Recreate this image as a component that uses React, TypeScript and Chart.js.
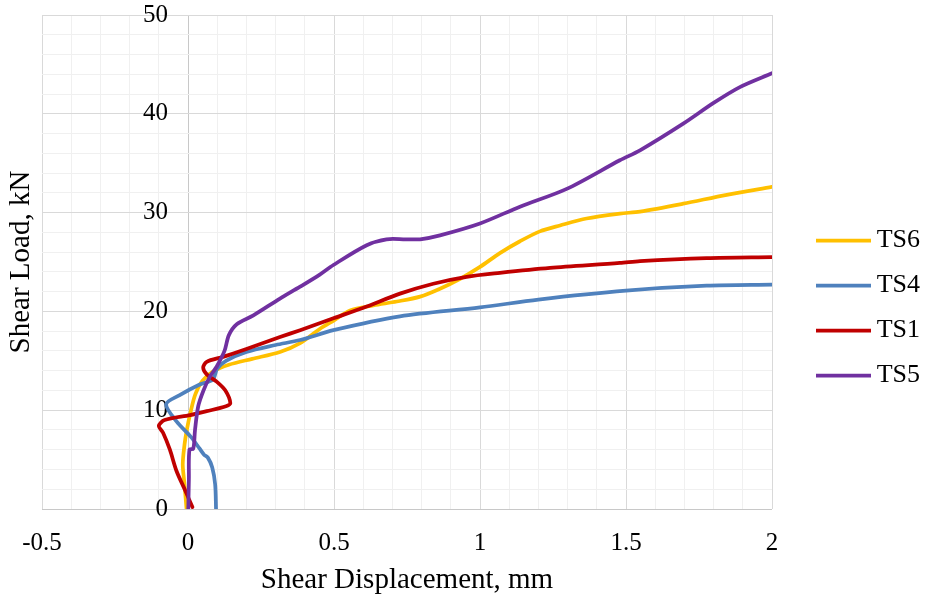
import React, { useEffect, useRef } from 'react';
import { Chart, registerables } from 'chart.js';

Chart.register(...registerables);

const seriesNames = ['TS6', 'TS4', 'TS1', 'TS5'];
const seriesColors = ['#FFC000', '#4F81BD', '#C00000', '#7030A0'];

const ts6X = [-0.005, -0.012, -0.018, -0.012, -0.004, 0.008, 0.025, 0.05, 0.085, 0.14, 0.22, 0.315, 0.384, 0.45, 0.5, 0.555, 0.635, 0.715, 0.795, 0.863, 0.932, 1.0, 1.068, 1.137, 1.205, 1.274, 1.365, 1.479, 1.548, 1.696, 1.845, 2.0];
const ts6Y = [0, 2.5, 4.5, 6.5, 8.0, 9.7, 11.6, 13.0, 13.9, 14.6, 15.2, 15.9, 16.8, 18.2, 19.1, 20.1, 20.6, 21.0, 21.5, 22.3, 23.3, 24.5, 25.9, 27.1, 28.1, 28.7, 29.4, 29.9, 30.1, 30.9, 31.8, 32.6];

const ts4X = [0.096, 0.093, 0.083, 0.068, 0.055, 0.04, 0.01, -0.04, -0.075, -0.03, 0.04, 0.085, 0.1, 0.13, 0.2, 0.3, 0.384, 0.498, 0.726, 1.0, 1.2, 1.5, 1.776, 2.0];
const ts4Y = [0, 2.5, 4.2, 5.2, 5.5, 6.1, 7.3, 8.9, 10.6, 11.5, 12.6, 13.1, 14.2, 15.0, 15.9, 16.6, 17.1, 18.1, 19.5, 20.4, 21.2, 22.1, 22.6, 22.7];

const ts1X = [0.015, -0.01, -0.04, -0.062, -0.085, -0.1, -0.08, 0.007, 0.064, 0.13, 0.145, 0.128, 0.098, 0.065, 0.052, 0.064, 0.12, 0.2, 0.315, 0.384, 0.498, 0.612, 0.726, 0.84, 0.954, 1.068, 1.24, 1.479, 1.548, 1.776, 2.0];
const ts1Y = [0.2, 1.9, 3.9, 6.0, 7.7, 8.4, 9.0, 9.5, 9.9, 10.4, 10.7, 12.0, 12.9, 13.6, 14.3, 14.9, 15.4, 16.2, 17.4, 18.1, 19.3, 20.5, 21.8, 22.8, 23.5, 23.9, 24.4, 24.9, 25.1, 25.4, 25.5];

const ts5X = [0.001, 0.003, 0.005, 0.018, 0.024, 0.035, 0.053, 0.075, 0.098, 0.125, 0.14, 0.167, 0.224, 0.315, 0.384, 0.45, 0.498, 0.612, 0.68, 0.745, 0.795, 0.863, 1.0, 1.137, 1.297, 1.479, 1.548, 1.696, 1.8, 1.89, 2.0];
const ts5Y = [0, 3, 6.0, 6.1, 8.0, 10.4, 12.0, 13.4, 14.4, 16.0, 17.6, 18.7, 19.6, 21.3, 22.5, 23.7, 24.7, 26.7, 27.3, 27.3, 27.3, 27.7, 28.9, 30.6, 32.4, 35.3, 36.3, 39.0, 41.1, 42.7, 44.1];

const xTickValues = [-0.5, 0, 0.5, 1, 1.5, 2];
const xTickLabels = ['-0.5', '0', '0.5', '1', '1.5', '2'];
const yTickValues = [0, 10, 20, 30, 40, 50];
const yTickLabels = ['0', '10', '20', '30', '40', '50'];

const xTitle = 'Shear Displacement, mm';
const yTitle = 'Shear Load, kN';

const FONT = '"Times New Roman", "Liberation Serif", serif';
const MAJOR = '#d9d9d9';
const MINOR = '#f0f0f0';
const AXIS = '#c8c8c8';

function labelFor(v: number, values: number[], labels: string[]) {
  const i = values.findIndex((t) => Math.abs(t - v) < 1e-6);
  return i >= 0 ? labels[i] : '';
}

function gridColor(values: number[]) {
  return (ctx: any) => {
    const v = ctx.tick ? ctx.tick.value : undefined;
    if (v === undefined) return MINOR;
    if (Math.abs(v) < 1e-9) return AXIS;
    return values.some((t) => Math.abs(t - v) < 1e-6) ? MAJOR : MINOR;
  };
}

export default function App() {
  const ref = useRef<HTMLCanvasElement>(null);

  useEffect(() => {
    if (!ref.current) return;
    const xs = [ts6X, ts4X, ts1X, ts5X];
    const ys = [ts6Y, ts4Y, ts1Y, ts5Y];
    const datasets = seriesNames.map((name, i) => ({
      label: name,
      data: xs[i].map((x, j) => ({ x, y: ys[i][j] })),
      showLine: true,
      borderColor: seriesColors[i],
      backgroundColor: seriesColors[i],
      borderWidth: 3.75,
      borderCapStyle: 'round' as const,
      borderJoinStyle: 'round' as const,
      pointRadius: 0,
      pointHoverRadius: 0,
      tension: 0.3,
      order: seriesNames.length - i,
      pointStyle: 'line' as const,
    }));

    const chart = new Chart(ref.current, {
      type: 'scatter',
      data: { datasets },
      options: {
        animation: false,
        responsive: false,
        events: [],
        layout: { padding: { top: 15, left: 0, right: 5, bottom: 0 } },
        font: { family: FONT },
        color: '#000',
        scales: {
          x: {
            type: 'linear',
            position: 'bottom',
            min: -0.5,
            max: 2,
            afterFit: (s: any) => { s.height = 92; },
            border: { display: false },
            grid: { color: gridColor(xTickValues), lineWidth: 1, drawTicks: false },
            ticks: {
              stepSize: 0.1,
              autoSkip: false,
              maxRotation: 0,
              minRotation: 0,
              padding: 19,
              color: '#000',
              font: { family: FONT, size: 25 },
              callback: (v: any) => labelFor(Number(v), xTickValues, xTickLabels),
            },
            title: {
              display: true,
              text: xTitle,
              color: '#000',
              font: { family: FONT, size: 29 },
              padding: { top: 0, bottom: 3 },
            },
          },
          y: {
            type: 'linear',
            position: 'left',
            min: 0,
            max: 50,
            afterFit: (s: any) => {
              s.width = 42;
              s.paddingTop = 0;
              s.paddingBottom = 0;
            },
            border: { display: false },
            grid: { color: gridColor(yTickValues), lineWidth: 1, drawTicks: false },
            ticks: {
              stepSize: 2,
              autoSkip: false,
              mirror: true,
              crossAlign: 'far',
              padding: 101,
              color: '#000',
              font: { family: FONT, size: 25 },
              callback: (v: any) => labelFor(Number(v), yTickValues, yTickLabels),
            },
            title: {
              display: true,
              text: yTitle,
              color: '#000',
              font: { family: FONT, size: 29 },
              padding: { top: 4, bottom: 0 },
            },
          },
          spacer: {
            type: 'linear',
            position: 'right',
            display: true,
            afterFit: (s: any) => { s.width = 25; },
            border: { display: false },
            grid: { display: false },
            ticks: { display: false },
            title: { display: false },
          },
        },
        plugins: {
          tooltip: { enabled: false },
          legend: {
            display: true,
            position: 'right',
            align: 'center',
            maxWidth: 123,
            labels: {
              usePointStyle: true,
              pointStyleWidth: 55,
              padding: 19,
              color: '#000',
              textAlign: 'right',
              font: { family: FONT, size: 26 },
              sort: (a: any, b: any) => a.datasetIndex - b.datasetIndex,
            },
          },
        },
      },
    } as any);

    return () => chart.destroy();
  }, []);

  return (
    <div style={{ position: 'fixed', left: 0, top: 0, width: 925, height: 601, background: '#fff' }}>
      <canvas ref={ref} width={925} height={601} style={{ display: 'block', width: 925, height: 601 }} />
    </div>
  );
}
